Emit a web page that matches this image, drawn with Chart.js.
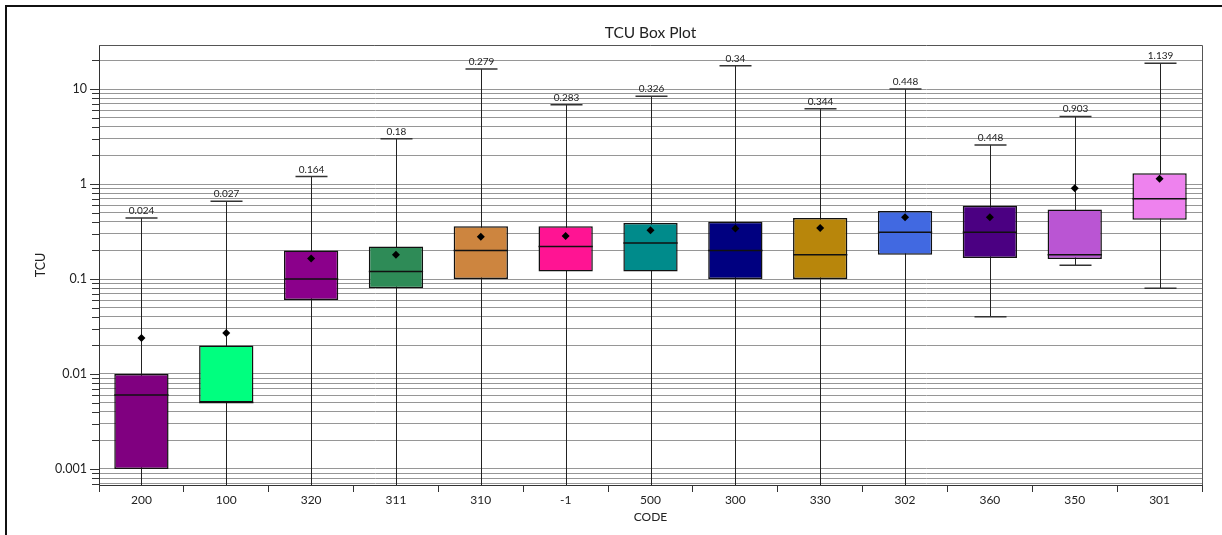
<!DOCTYPE html>
<html>
<head>
<meta charset="utf-8">
<title>TCU Box Plot</title>
<script src="https://cdn.jsdelivr.net/npm/chart.js@4.4.1/dist/chart.umd.min.js"></script>
<style>
  html, body { margin: 0; padding: 0; background: #fff; overflow: hidden; width: 1222px; height: 535px; }
  #frame { position: absolute; left: 5px; top: 5px; width: 1300px; height: 600px; border: 2px solid #111; box-sizing: border-box; }
  #c { position: absolute; left: 0; top: 0; }
</style>
</head>
<body>
<div id="frame"></div>
<canvas id="c" width="1222" height="535"></canvas>
<script>
// Category codes along the x axis
const codes = ['200', '100', '320', '311', '310', '-1', '500', '300', '330', '302', '360', '350', '301'];

// Box-plot statistics per code (0 = minimum of zero, off the log axis)
const whiskerLow  = [0, 0, 0, 0, 0, 0, 0, 0, 0, 0, 0.04, 0.14, 0.08];
const q1          = [0.001, 0.005, 0.06, 0.08, 0.1, 0.12, 0.12, 0.1, 0.1, 0.18, 0.166, 0.162, 0.42];
const median      = [0.006, 0.005, 0.1, 0.12, 0.2, 0.22, 0.24, 0.2, 0.18, 0.31, 0.31, 0.18, 0.7];
const q3          = [0.01, 0.02, 0.2, 0.22, 0.36, 0.36, 0.39, 0.4, 0.44, 0.52, 0.59, 0.54, 1.3];
const whiskerHigh = [0.44, 0.66, 1.2, 3.0, 16.3, 6.85, 8.4, 17.6, 6.2, 10.0, 2.58, 5.15, 18.7];
const means       = [0.024, 0.027, 0.164, 0.18, 0.279, 0.283, 0.326, 0.34, 0.344, 0.448, 0.448, 0.903, 1.139];

// Box fill colours
const boxColors = ['#800080', '#00FF7F', '#8B008B', '#2E8B57', '#CD853F', '#FF1493', '#008B8B',
                   '#000080', '#B8860B', '#4169E1', '#4B0082', '#BA55D3', '#EE82EE'];

// Log-axis tick labels (decades) and minor multipliers for the gridlines
const yTickLabels = ['0.001', '0.01', '0.1', '1', '10'];
const yDecadeExponents = [-4, -3, -2, -1, 0, 1];
const yMultipliers = [1, 2, 3, 4, 5, 6, 7, 8, 9];
const yMin = 0.000678;
const yMax = 29.1;

const chartTitle = 'TCU Box Plot';

const yTickValues = [];
yDecadeExponents.forEach(e => yMultipliers.forEach(m => {
  const v = +(m * Math.pow(10, e)).toPrecision(6);
  if (v >= yMin && v <= yMax) yTickValues.push(v);
}));
const isDecade = v => Math.abs(Math.log10(v) - Math.round(Math.log10(v))) < 1e-9;

const FONT = 'Lato, "Noto Sans", sans-serif';
Chart.defaults.font.family = FONT;
Chart.defaults.color = '#222';

const boxPlotPlugin = {
  id: 'boxPlotParts',
  beforeDatasetsDraw(chart) {
    // whisker stems, drawn beneath the boxes
    const ctx = chart.ctx, ys = chart.scales.y;
    const bars = chart.getDatasetMeta(0).data;
    const py = v => (v <= ys.min ? ys.bottom : ys.getPixelForValue(v));
    ctx.save();
    ctx.strokeStyle = '#222';
    ctx.lineWidth = 1;
    bars.forEach((bar, i) => {
      const x = Math.round(bar.x) + 0.5;
      ctx.beginPath();
      ctx.moveTo(x, py(whiskerLow[i]));
      ctx.lineTo(x, py(whiskerHigh[i]));
      ctx.stroke();
    });
    ctx.restore();
  },
  afterDatasetDraw(chart, args) {
    if (args.index !== 0) return;
    const ctx = chart.ctx, ys = chart.scales.y;
    const bars = chart.getDatasetMeta(0).data;
    ctx.save();
    // median lines
    ctx.strokeStyle = '#111';
    ctx.lineWidth = 1.5;
    bars.forEach((bar, i) => {
      const y = ys.getPixelForValue(median[i]);
      ctx.beginPath();
      ctx.moveTo(bar.x - bar.width / 2, y);
      ctx.lineTo(bar.x + bar.width / 2, y);
      ctx.stroke();
    });
    // whisker caps and mean labels
    const capHalf = 16;
    ctx.strokeStyle = '#333';
    ctx.lineWidth = 1.5;
    ctx.fillStyle = '#222';
    ctx.font = '10px ' + FONT;
    ctx.textAlign = 'center';
    ctx.textBaseline = 'alphabetic';
    bars.forEach((bar, i) => {
      const x = Math.round(bar.x) + 0.5;
      const yh = ys.getPixelForValue(whiskerHigh[i]);
      ctx.beginPath();
      ctx.moveTo(x - capHalf, yh);
      ctx.lineTo(x + capHalf, yh);
      if (whiskerLow[i] > ys.min) {
        const yl = ys.getPixelForValue(whiskerLow[i]);
        ctx.moveTo(x - capHalf, yl);
        ctx.lineTo(x + capHalf, yl);
      }
      ctx.stroke();
      ctx.fillText(String(means[i]), x, yh - 4);
    });
    ctx.restore();
  },
  afterDraw(chart) {
    const ctx = chart.ctx, a = chart.chartArea, ys = chart.scales.y;
    ctx.save();
    // top and right edges of the plot frame
    ctx.strokeStyle = '#555';
    ctx.lineWidth = 1;
    ctx.beginPath();
    ctx.moveTo(a.left, Math.round(a.top) + 0.5);
    ctx.lineTo(Math.round(a.right) + 0.5, Math.round(a.top) + 0.5);
    ctx.lineTo(Math.round(a.right) + 0.5, a.bottom);
    ctx.stroke();
    // y-axis tick marks: longer at each decade
    ctx.strokeStyle = '#333';
    ctx.beginPath();
    ys.ticks.forEach(t => {
      const y = Math.round(ys.getPixelForValue(t.value)) + 0.5;
      const len = isDecade(t.value) ? 9 : 7;
      ctx.moveTo(a.left - len, y);
      ctx.lineTo(a.left, y);
    });
    ctx.stroke();
    // chart title, centred over the plot area
    ctx.fillStyle = '#222';
    ctx.font = '15.5px ' + FONT;
    ctx.textAlign = 'center';
    ctx.textBaseline = 'middle';
    ctx.fillText(chartTitle, (a.left + a.right) / 2, 33);
    ctx.restore();
  }
};

new Chart(document.getElementById('c'), {
  type: 'bar',
  data: {
    labels: codes,
    datasets: [
      {
        type: 'bar',
        label: 'TCU',
        data: codes.map((c, i) => [q1[i], q3[i]]),
        backgroundColor: boxColors,
        borderColor: '#111',
        borderWidth: 1.5,
        borderSkipped: false,
        categoryPercentage: 1,
        barPercentage: 0.64,
        order: 2
      },
      {
        type: 'line',
        label: 'Mean',
        data: means,
        showLine: false,
        pointStyle: 'rectRot',
        pointRadius: 4,
        pointBackgroundColor: '#000',
        pointBorderColor: '#000',
        pointBorderWidth: 0,
        order: 1
      }
    ]
  },
  options: {
    responsive: false,
    animation: false,
    devicePixelRatio: 1,
    layout: { padding: { left: 0, right: 20, top: 45, bottom: 0 } },
    plugins: {
      legend: { display: false },
      tooltip: { enabled: false },
      title: { display: false }
    },
    scales: {
      x: {
        type: 'category',
        offset: true,
        grid: { drawOnChartArea: false, drawTicks: true, tickLength: 7, color: '#333', offset: true },
        border: { color: '#333', width: 1 },
        ticks: { padding: 1, font: { size: 12 }, color: '#222', maxRotation: 0, autoSkip: false },
        title: { display: true, text: 'CODE', font: { size: 12 }, color: '#222', padding: { top: 0, bottom: 11 } },
        afterFit(s) { s.height = 50; }
      },
      y: {
        type: 'logarithmic',
        min: yMin,
        max: yMax,
        afterBuildTicks(s) {
          s.ticks = yTickValues.map(v => ({ value: v, major: isDecade(v) }));
        },
        grid: { color: '#969696', lineWidth: 1, drawTicks: false },
        border: { color: '#333', width: 1 },
        ticks: {
          padding: 12,
          autoSkip: false,
          font: { size: 12.5 },
          color: '#222',
          callback(v) {
            if (!isDecade(v)) return '';
            const idx = Math.round(Math.log10(v)) + 3;
            return yTickLabels[idx] !== undefined ? yTickLabels[idx] : '';
          }
        },
        title: { display: true, text: 'TCU', font: { size: 12.5 }, color: '#222', padding: { top: 33, bottom: 0 } },
        afterFit(s) { s.width = 99; }
      }
    }
  },
  plugins: [boxPlotPlugin]
});
</script>
</body>
</html>
